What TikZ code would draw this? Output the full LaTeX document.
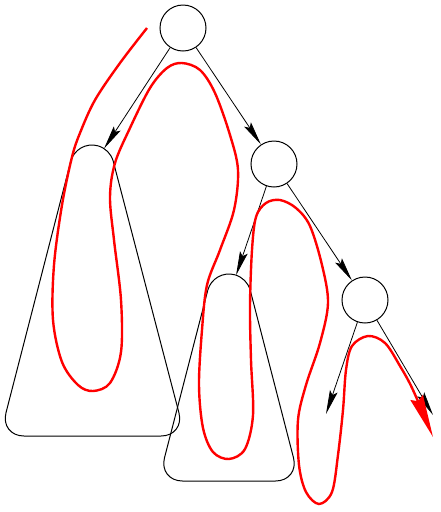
\documentclass[tikz,border=0pt]{standalone}
\usetikzlibrary{arrows.meta}
\tikzstyle{vertex}=[circle,draw,line width=0.75pt,minimum size=34.5pt,inner sep=0pt]
\tikzstyle{subroot}=[circle,minimum size=33pt,inner sep=0pt,outer sep=0pt]
\tikzstyle{edge}=[draw,line width=0.6pt,-{Stealth[length=18pt,width=6pt,inset=3pt]}]
\tikzstyle{subtree}=[draw,line width=0.75pt]
\tikzstyle{walk}=[draw,red,line width=1.8pt,-{Stealth[length=32pt,width=10pt,inset=3pt]}]

\begin{document}
\begin{tikzpicture}[x=0.75pt,y=-0.75pt]
\useasboundingbox (0,0) rectangle (441,512);

% tree nodes
\foreach \pos/\name in {{(183,28)/root},{(274,164)/R},{(365,300)/RR}}
  \node[vertex] (\name) at \pos {};
\foreach \pos/\name in {{(92,167)/L},{(229,296)/RL}}
  \node[subroot] (\name) at \pos {};
\coordinate (RRL) at (326,414);
\coordinate (RRR) at (433,415);

% subtrees
\draw[subtree,rounded corners=18pt] (L.15) -- (185,436) -- (0,436) -- (L.165);
\draw[subtree] (L.165) arc[start angle=165,end angle=15,radius=16.5pt];
\draw[subtree,rounded corners=18pt] (RL.15) -- (299.5,481) -- (158.5,481) -- (RL.165);
\draw[subtree] (RL.165) arc[start angle=165,end angle=15,radius=16.5pt];

% edges
\foreach \source/\dest in {root/L, root/R, R/RL, R/RR, RR/RRL, RR/RRR}
  \path[edge] (\source) -- (\dest);

% walk
\path[walk] plot[smooth,tension=0.55] coordinates {
  (147,28) (120,63) (95,100) (80,133) (72,157) (62,205) (54,265) (53,320)
  (62,362) (78,385) (93,391) (110,383) (121,352) (121,300) (114,240)
  (110,197) (115,163) (130,128) (150,88) (167,68) (182,63) (200,70)
  (215,93) (230,135) (238,170) (234,210) (220,250) (207,285) (202,330)
  (199,385) (203,428) (213,452) (229,459) (245,449) (253,415) (251,360)
  (250,306) (252,250) (256,217) (266,203) (280,200) (296,208) (310,226)
  (322,265) (328,303) (320,343) (306,385) (298,420) (299,465) (306,492)
  (319,504) (332,492) (338,455) (343,410) (346,370) (352,346) (368,336)
  (385,343) (400,366) (413,390) (433,437)};
\end{tikzpicture}
\end{document}
